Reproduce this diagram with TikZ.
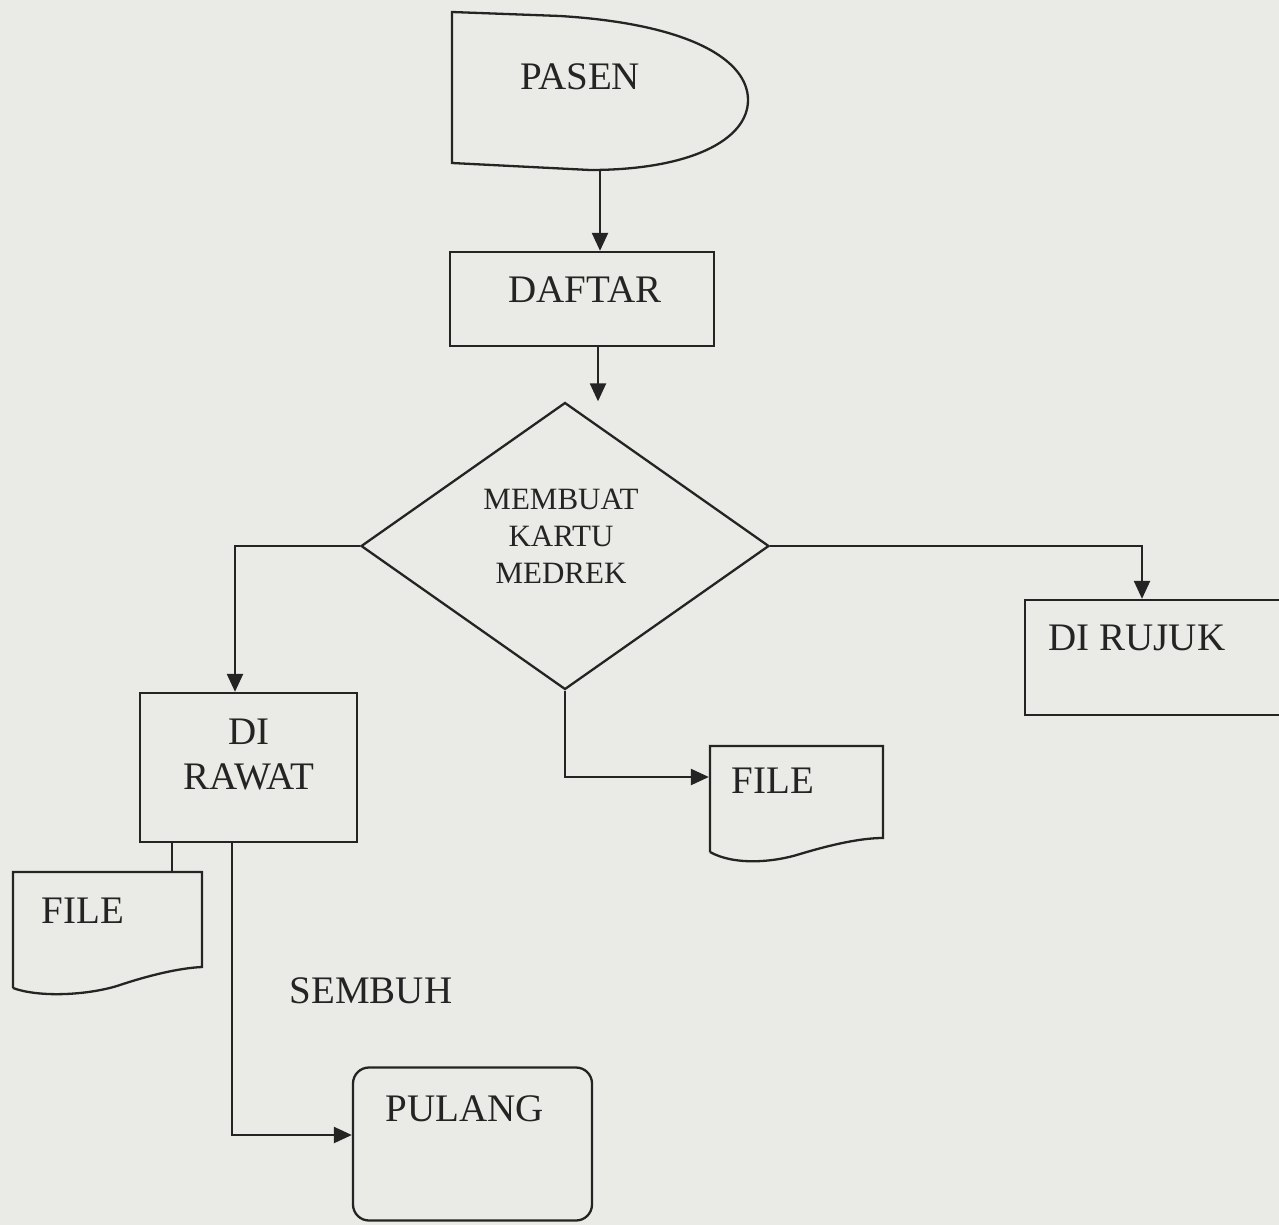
\documentclass[tikz,border=0pt]{standalone}
\usepackage{fontspec}
\setmainfont{Liberation Serif}
\usetikzlibrary{shapes.geometric,arrows.meta}
\definecolor{bg}{RGB}{234,234,230}
\definecolor{ink}{RGB}{36,36,36}
\begin{document}
\begin{tikzpicture}[x=1pt,y=-1pt,line width=2.3pt,color=ink,
  box/.style={draw,rectangle,inner sep=0pt},
  anchorbox/.style={rectangle,inner sep=0pt},
  arr/.style={-{Triangle[length=18pt,width=16pt]}},
  lbl/.style={font=\fontsize{39}{45}\selectfont,align=center,inner sep=0pt,text=ink}]
\useasboundingbox (0,0) rectangle (1279,1225);
\fill[bg] (0,0) rectangle (1279,1225);
\clip (0,0) rectangle (1279,1225);
% PASEN (terminal / delay shape)
\node[anchorbox,minimum width=296pt,minimum height=158pt] (pasen) at (600,91) {};
\draw (452,12) -- (560,16) .. controls (690,24) and (748,60) .. (748,100)
      .. controls (748,140) and (690,170) .. (590,170) -- (452,163) -- cycle;
\node[lbl] (tpasen) at (580,77) {PASEN};
% DAFTAR
\node[box,minimum width=264pt,minimum height=94pt] (daftar) at (582,299) {};
\node[lbl] (tdaftar) at (585,290) {DAFTAR};
% decision
\node[draw,diamond,inner sep=0pt,minimum width=408pt,minimum height=287pt] (membuat) at (565,546) {};
\node[lbl,font=\fontsize{31}{37}\selectfont] (tmembuat) at (561,536) {MEMBUAT\\KARTU\\MEDREK};
% DI RAWAT
\node[box,minimum width=217pt,minimum height=149pt] (rawat) at (248.5,767.5) {};
\node[lbl] (trawat) at (249,755) {DI\\RAWAT};
% DI RUJUK
\node[box,minimum width=275pt,minimum height=115pt] (rujuk) at (1162.5,657.5) {};
\node[lbl] (trujuk) at (1137,638) {DI RUJUK};
% FILE (middle)
\node[anchorbox,minimum width=173pt,minimum height=112pt] (file2) at (796.5,802) {};
\draw (710,852) -- (710,746) -- (883,746) -- (883,838)
      .. controls (860,838) and (830,845) .. (800,854)
      .. controls (775,862) and (735,866) .. (710,852);
\node[lbl] (tfile2) at (773,781) {FILE};
% FILE (left)
\node[anchorbox,minimum width=189pt,minimum height=116pt] (file1) at (107.5,930) {};
\draw (13,988) -- (13,872) -- (202,872) -- (202,967)
      .. controls (180,968) and (150,975) .. (120,985)
      .. controls (90,995) and (40,998) .. (13,988);
\node[lbl] (tfile1) at (83,911) {FILE};
% PULANG
\node[box,rounded corners=16pt,minimum width=239pt,minimum height=153pt] (pulang) at (472.5,1144) {};
\node[lbl] (tpulang) at (465,1109) {PULANG};
\node[lbl] (tsembuh) at (371,991) {SEMBUH};
% connectors
\draw[arr] (pasen.south) -- (pasen.south |- daftar.north);
\draw[arr] ([xshift=16pt]daftar.south) -- ([xshift=16pt]daftar.south |- membuat.north);
\draw[arr] (membuat.west) -| ([xshift=-13.5pt]rawat.north);
\draw[arr] (membuat.east) -| ([xshift=-20.5pt]rujuk.north);
\draw[arr] (membuat.south) |- ([yshift=25pt]file2.west);
\draw ([xshift=-76.5pt]rawat.south) -- ([xshift=-76.5pt]rawat.south |- file1.north);
\draw[arr] ([xshift=-16.5pt]rawat.south) |- ([yshift=9pt]pulang.west);
\end{tikzpicture}
\end{document}
